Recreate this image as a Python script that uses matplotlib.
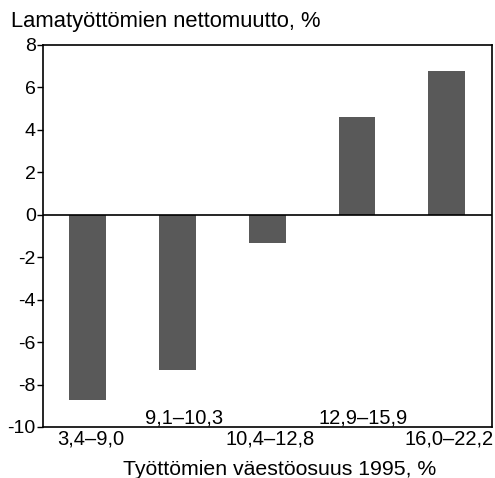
import numpy as np
import matplotlib.pyplot as plt

plt.rcParams['font.family'] = ['Liberation Sans', 'DejaVu Sans']

categories = ["3,4–9,0", "9,1–10,3", "10,4–12,8", "12,9–15,9", "16,0–22,2"]
values = [-8.74, -7.3, -1.32, 4.58, 6.75]
yticks = [8, 6, 4, 2, 0, -2, -4, -6, -8, -10]

fig = plt.figure(figsize=(4.95, 4.78), dpi=100)
ax = fig.add_axes([0.0863, 0.1067, 0.907, 0.7998])

x = np.arange(len(categories))
ax.bar(x, values, width=0.41, color="#595959", zorder=2)
ax.axhline(0, color="black", lw=1.2, zorder=3)

ax.set_xlim(-0.5, len(categories) - 0.5)
ax.set_ylim(-10, 8)
ax.set_yticks(yticks)
ax.set_yticklabels([str(t) for t in yticks])
ax.tick_params(axis="y", labelsize=14, length=4, width=1, pad=1)
ax.set_xticks([])
for s in ax.spines.values():
    s.set_linewidth(1.2)

# staggered category labels
for i, lab in enumerate(categories):
    if i % 2 == 0:
        ax.text(i + 0.03, -10.12, lab, ha="center", va="top", fontsize=14.5)
    else:
        ax.text(i + 0.07, -9.83, lab, ha="center", va="baseline", fontsize=14.5)

ax.text(-0.85, 8.6, "Lamatyöttömien nettomuutto, %", ha="left", va="bottom", fontsize=15.8)
fig.text(0.565, 0.006, "Työttömien väestöosuus 1995, %", ha="center", va="baseline", fontsize=15.3)

fig.savefig("out.png", dpi=100)
